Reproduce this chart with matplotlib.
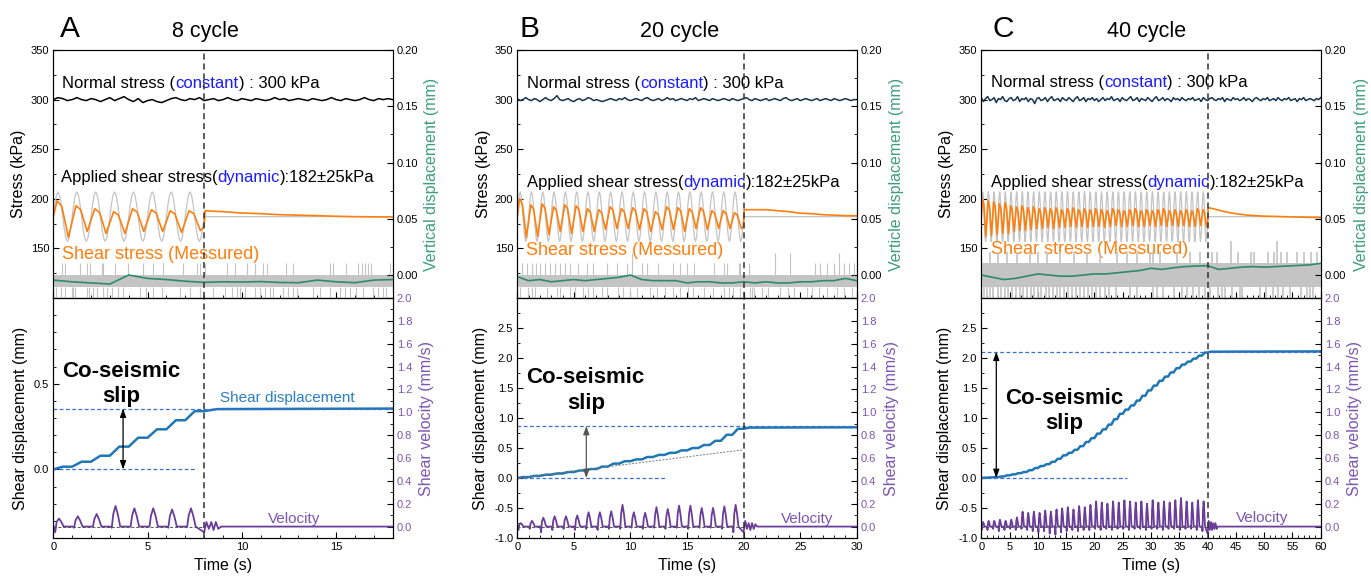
import matplotlib.pyplot as plt
import numpy as np
from matplotlib.ticker import MultipleLocator, FormatStrFormatter

plt.rcParams['font.family'] = ['Liberation Sans', 'DejaVu Sans']

# ---------------- data ----------------
# one cycle of the applied shear stress (kPa), 12 samples per cycle
applied_cycle = [182, 194.5, 203.5, 207, 203.5, 194.5, 182, 169.5, 160.5, 157, 160.5, 169.5]
applied_hold = 182

# normal stress (kPa), evenly spaced over the record
normal_a = [300, 302, 301, 299, 300, 302, 300, 299, 301, 300, 298, 300, 302, 299, 301, 303, 300, 298,
            301, 297, 299, 300, 298, 297, 299, 301, 302, 300, 299, 301, 300, 302, 299, 300, 301, 299,
            300, 302, 300, 299, 301, 300, 299, 301, 300, 299, 300, 302, 300, 301, 299, 300, 301, 300,
            299, 301, 300, 299, 300, 302, 300, 299, 301, 300, 299, 300, 302, 300, 299, 301, 300, 301, 300]
normal_b = [301, 299, 300, 302, 300, 299, 301, 300, 298, 300, 302, 300, 299, 301, 304, 300, 299, 300, 301, 299,
            298, 300, 301, 299, 300, 302, 301, 299, 300, 299, 298, 299, 300, 301, 300, 299, 301, 300, 302, 300,
            299, 300, 301, 300, 299, 301, 302, 300, 299, 300, 301, 299, 300, 302, 300, 301, 299, 300, 301, 300,
            299, 301, 300, 302, 299, 300, 301, 300, 299, 301, 300, 299, 300, 301, 300, 299, 301, 300, 299, 300,
            301, 302, 300, 299, 301, 300, 299, 300, 301, 299, 300, 301, 300, 299, 301, 302, 300, 299, 300, 301,
            299, 300, 301, 300, 299, 300, 301, 299, 300, 301, 300, 299, 301, 300, 299, 300, 301, 300, 299, 300, 300]
normal_c = [302, 298, 301, 303, 299, 300, 302, 297, 301, 300, 303, 299, 298, 301, 302, 299, 300, 303, 298, 301,
            300, 302, 298, 301, 300, 296, 301, 302, 299, 300, 302, 298, 301, 303, 299, 300, 301, 298, 302, 300,
            299, 302, 300, 298, 301, 303, 299, 300, 302, 298, 301, 300, 302, 299, 301, 298, 300, 302, 299, 301,
            300, 303, 299, 300, 301, 298, 302, 300, 299, 301, 303, 299, 300, 302, 298, 301, 300, 299, 302, 300,
            298, 301, 303, 299, 300, 302, 299, 301, 300, 298, 302, 300, 301, 299, 302, 300, 299, 301, 300, 302,
            299, 300, 301, 298, 302, 300, 299, 301, 302, 300, 299, 301, 300, 302, 298, 301, 300, 299, 302, 300,
            301, 299, 300, 302, 299, 301, 300, 298, 301, 302, 300, 299, 301, 300, 302, 299, 300, 301, 299, 302,
            300, 299, 301, 300, 302, 299, 300, 301, 298, 301, 300, 302, 299, 300, 301, 300, 299, 301, 300, 302]

# measured shear stress: peak / trough of every cycle, then the hold phase
meas_peak_a = [198, 193, 190, 187, 190, 189, 188, 188]
meas_trough_a = [161, 167, 165, 165, 167, 167, 166, 168]
meas_peak_b = [200, 194, 195, 192, 194, 193, 190, 189, 192, 190, 191, 190, 187, 192, 191, 190, 191, 188, 188, 186]
meas_trough_b = [161, 162, 164, 167, 165, 167, 167, 169, 170, 170, 169, 167, 169, 169, 167, 170, 169, 170, 170, 170]
meas_peak_c = [200, 198, 197, 195, 196, 193, 192, 193, 191, 192, 190, 191, 190, 191, 189, 190, 191, 189, 190, 189,
               190, 189, 188, 190, 189, 188, 189, 190, 188, 189, 188, 189, 190, 188, 189, 188, 189, 188, 190, 189]
meas_trough_c = [162, 163, 164, 165, 165, 167, 168, 168, 169, 170, 170, 171, 170, 171, 171, 172, 171, 172, 171, 172,
                 172, 171, 172, 173, 172, 172, 173, 172, 172, 173, 172, 173, 172, 173, 172, 173, 172, 172, 173, 172]
hold_t_a = [8.0, 8.05, 8.5, 9, 10, 11, 12, 13, 14, 15, 16, 17, 18]
hold_a = [172, 188, 187.5, 187, 185.7, 185, 184, 183.5, 183, 182.4, 182, 181.8, 181.7]
hold_t_b = [20.0, 20.05, 21, 22, 23, 24, 25, 26, 27, 28, 29, 30]
hold_b = [172, 189, 189, 189, 188, 187, 185.5, 185, 184, 183.5, 183, 183]
hold_t_c = [40.0, 40.1, 41, 42, 43, 45, 47, 50, 55, 60]
hold_c = [172, 191, 190, 188.5, 187, 185, 183.5, 182.5, 181.8, 181]

# vertical displacement (mm), smoothed trace
vdisp_a = [-0.0045, -0.006, -0.007, -0.008, 0.0, -0.003, -0.004, -0.0055, -0.0065, -0.006,
           -0.0062, -0.0058, -0.0066, -0.0068, -0.0045, -0.006, -0.0068, -0.0045, -0.004]
vdisp_b = [-0.0015, -0.005, -0.004, -0.006, -0.005, -0.004, -0.005, -0.004, -0.003, -0.002, 0.0,
           -0.004, -0.005, -0.005, -0.005, -0.007, -0.006, -0.006, -0.007, -0.007, -0.006,
           -0.007, -0.006, -0.007, -0.007, -0.006, -0.006, -0.005, -0.005, -0.003, -0.005]
vdisp_c = [0.0, -0.002, -0.004, -0.003, -0.001, 0.001, 0.0, -0.001, -0.001, 0.0, 0.001, 0.001, 0.002,
           0.003, 0.004, 0.006, 0.005, 0.0065, 0.0075, 0.008, 0.0083, 0.005, 0.006, 0.007, 0.0075,
           0.007, 0.0075, 0.008, 0.0085, 0.009, 0.0104]

# raw (quantised) vertical displacement: spike times (s)
raw_up_a = [0.44, 0.62, 1.42, 1.8, 1.95, 2.56, 2.65, 3.27, 3.98, 4.77, 5.3, 5.83, 6.86, 7.6, 7.78, 8.04,
            9.19, 9.63, 10.25, 10.69, 11.13, 11.31, 12.34, 12.72, 14.7, 14.85, 15.52, 16.17, 16.35,
            16.53, 16.7, 16.83, 17.85]
raw_down_a = [0.14, 0.39, 0.62, 0.97, 1.06, 1.15, 1.77, 1.91, 2.12, 2.3, 2.65, 2.83, 3.1, 3.45, 3.71,
              4.6, 4.91, 5.3, 5.74, 6.72, 7.25, 7.78, 8.48, 9.1, 9.46, 9.72, 9.9, 10.16, 10.69, 10.96,
              11.22, 11.49, 11.66, 12.19, 12.46, 12.72, 12.9, 13.79, 14.14, 14.67, 15.2, 15.47, 15.73,
              16.08, 16.44, 16.97, 17.23, 17.5, 17.67]
raw_tall_a = []
raw_up_b = [0.38, 0.83, 1.27, 1.65, 2.0, 2.45, 2.9, 3.34, 3.78, 4.22, 4.66, 5.4, 6.14, 6.73, 7.9, 8.79,
            9.67, 11.0, 11.45, 12.48, 13.8, 14.4, 15.0, 15.6, 17.36, 18.25, 18.54, 19.57, 19.72, 20.46,
            26.35, 26.8, 27.39, 27.98, 28.86, 29.3, 29.75]
raw_down_b = [0.24, 0.97, 1.27, 1.56, 2.6, 3.48, 3.78, 4.66, 5.1, 5.84, 6.28, 6.73, 7.46, 7.9, 8.94,
              9.38, 9.97, 10.56, 11.74, 12.33, 13.07, 13.8, 14.4, 15.13, 15.57, 16.46, 17.34, 18.23,
              18.67, 19.11, 19.7, 20.6, 20.74, 20.9, 21.6, 22.2, 23.24, 23.97, 24.42, 25.6, 26.04,
              26.63, 27.37, 28.25, 28.84, 29.58]
raw_tall_b = [10.1, 22.82, 24.14, 28.42]
raw_up_c = [1.53, 3.0, 4.6, 6.25, 8.6, 10.1, 11.55, 13.9, 16.3, 18.6, 21.0, 24.0, 25.7, 27.5, 29.8,
            30.4, 31.6, 34.6, 36.9, 38.7, 40.8, 41.7, 45.3, 47.6, 48.2, 50.6, 51.7, 52.9, 54.1, 55.8,
            57.0, 58.2, 59.4]
raw_down_c = [0.4, 1.0, 1.6, 2.1, 2.9, 3.5, 4.2, 4.8, 5.5, 6.1, 6.8, 7.3, 8.0, 8.7, 9.3, 10.0, 10.6,
              11.4, 12.0, 12.6, 13.3, 14.0, 14.7, 15.4, 16.0, 16.8, 17.5, 18.1, 18.9, 19.6, 20.3, 21.0,
              21.8, 22.5, 23.9, 26.3, 27.5, 30.4, 31.0, 32.2, 34.0, 35.4, 36.3, 37.5, 38.4, 39.5, 40.4,
              41.9, 42.5, 43.1, 44.3, 45.7, 46.0, 49.3, 50.4, 51.6, 52.5, 53.4, 54.6, 56.6, 57.5, 58.1, 58.7]
raw_tall_c = [44.1, 52.3]

# shear displacement (mm) at the end of each cycle, then hold
sdisp_a = [0.0, 0.016, 0.045, 0.08, 0.133, 0.185, 0.234, 0.287, 0.34]
sdisp_hold_t_a = [8.7, 18]
sdisp_hold_a = [0.352, 0.355]
sdisp_b = [0.0, 0.015, 0.035, 0.055, 0.075, 0.1, 0.125, 0.15, 0.19, 0.24, 0.28, 0.31, 0.35, 0.385,
           0.42, 0.46, 0.5, 0.55, 0.62, 0.72, 0.82]
sdisp_hold_t_b = [20.5, 30]
sdisp_hold_b = [0.84, 0.845]
sdisp_c = [0.0, 0.005, 0.01, 0.015, 0.025, 0.044, 0.06, 0.08, 0.1, 0.13, 0.166, 0.2, 0.23, 0.27, 0.32,
           0.377, 0.42, 0.47, 0.53, 0.6, 0.665, 0.74, 0.81, 0.89, 0.98, 1.07, 1.14, 1.21, 1.29, 1.37,
           1.46, 1.54, 1.62, 1.69, 1.76, 1.83, 1.89, 1.94, 1.99, 2.04, 2.09]
sdisp_hold_t_c = [40.5, 60]
sdisp_hold_c = [2.105, 2.11]
slip_top = [0.355, 0.867, 2.105]
trend_t_b = [0, 20]
trend_b = [0.0, 0.47]

# shear velocity (mm/s): peak / trough per cycle, then ringing after the stop
vel_peak_a = [0.07, 0.09, 0.11, 0.18, 0.16, 0.16, 0.15, 0.16]
vel_trough_a = [-0.05, -0.01, 0.0, -0.01, 0.0, 0.0, -0.01, 0.0]
vel_peak_b = [0.03, 0.05, 0.077, 0.09, 0.09, 0.097, 0.125, 0.125, 0.134, 0.19, 0.125, 0.12, 0.17,
              0.154, 0.183, 0.183, 0.163, 0.163, 0.177, 0.19]
vel_trough_b = [-0.03, -0.02, -0.05, -0.03, -0.02, -0.03, -0.02, -0.03, -0.02, -0.02, -0.01, -0.02,
                -0.01, -0.02, -0.01, -0.02, -0.01, -0.01, -0.02, -0.05]
vel_peak_c = [0.04, 0.05, 0.05, 0.06, 0.05, 0.06, 0.08, 0.13, 0.12, 0.13, 0.12, 0.14, 0.13, 0.15,
              0.16, 0.17, 0.15, 0.18, 0.17, 0.19, 0.22, 0.21, 0.2, 0.22, 0.21, 0.23, 0.22, 0.21, 0.22,
              0.2, 0.23, 0.21, 0.22, 0.21, 0.23, 0.25, 0.22, 0.21, 0.23, 0.22]
vel_trough_c = [-0.03, -0.03, -0.02, -0.04, -0.03, -0.02, -0.03, -0.02, -0.03, -0.04, -0.05, -0.04,
                -0.06, -0.07, -0.05, -0.04, -0.03, -0.04, -0.03, -0.03, -0.02, -0.03, -0.02, -0.03,
                -0.02, -0.02, -0.03, -0.02, -0.02, -0.03, -0.02, -0.02, -0.03, -0.02, -0.02, -0.03,
                -0.02, -0.02, -0.03, -0.04]
ring_t_a = [8.0, 8.12, 8.25, 8.38, 8.5, 8.62, 8.75, 8.9]
ring_a = [-0.05, 0.04, -0.02, 0.04, -0.03, 0.04, -0.02, 0.0]
ring_t_b = [20.0, 20.15, 20.3, 20.45, 20.6, 20.75, 20.9, 21.05, 21.2]
ring_b = [-0.05, 0.05, -0.02, 0.03, -0.03, 0.03, -0.02, 0.02, 0.0]
ring_t_c = [40.0, 40.2, 40.4, 40.6, 40.8, 41.0, 41.2, 41.4, 41.6, 41.8]
ring_c = [-0.06, 0.05, -0.03, 0.04, -0.03, 0.03, -0.02, 0.03, -0.02, 0.0]

letters = ['A', 'B', 'C']
titles = ['8 cycle', '20 cycle', '40 cycle']
vd_labels = ['Vertical displacement (mm)', 'Verticle displacement (mm)', 'Vertical displacement (mm)']

ORANGE = '#ff7f0e'
GREEN = '#2e8b6b'
GREEN_LBL = '#3d9d7c'
PURPLE = '#6a3d9a'
PURPLE_LBL = '#7d55b2'
BLUE = '#1f77b4'
DBLUE = '#3a6fd6'
GRAY = '#c4c4c4'
W, H = 1371, 579


def applied_line(n, tmax):
    t = np.concatenate([np.linspace(0, n, 12 * n, endpoint=False), [n, tmax]])
    y = np.concatenate([np.tile(applied_cycle, n), [applied_hold, applied_hold]])
    return t, y


def measured_line(peaks, troughs, hold_t, hold_v):
    t, y = [0.0], [applied_hold]
    for k, (p, q) in enumerate(zip(peaks, troughs)):
        t += [k + 0.2, k + 0.45, k + 0.8]
        y += [p, p - 0.15 * (p - q), q]
    return t + hold_t, y + hold_v


def step_line(vals, hold_t, hold_v):
    t, y = [0.0], [vals[0]]
    for k in range(1, len(vals)):
        t += [k - 0.5, k]
        y += [vals[k], vals[k]]
    return t + hold_t, y + hold_v


def velocity_line(peaks, troughs, ring_t, ring_v, tmax):
    t, y = [], []
    for k, (p, q) in enumerate(zip(peaks, troughs)):
        t += [k + 0.03, k + 0.1, k + 0.18, k + 0.3, k + 0.42, k + 0.55]
        y += [0.0, q, 0.6 * p, p, 0.6 * p, 0.0]
    return t + ring_t + [tmax], y + ring_v + [0.0]


def px_box(x0, x1, ytop, ybot):
    return [x0 / W, 1 - ybot / H, (x1 - x0) / W, (ybot - ytop) / H]


def style(ax):
    ax.tick_params(which='both', direction='in', labelsize=8, pad=3)
    ax.tick_params(which='major', length=4, width=0.8)
    ax.tick_params(which='minor', length=2, width=0.6)


def place_ylabel(ax, x):
    ax.yaxis.set_label_coords(x, 0.5)
    ax.yaxis.label.set_verticalalignment('center')


def rich_text(ax, x, y, parts, size):
    t = ax.text(x, y, parts[0][0], color=parts[0][1], fontsize=size, va='baseline')
    for s, c in parts[1:]:
        t = ax.annotate(s, xy=(1, 0), xycoords=t, color=c, fontsize=size, va='bottom')


panels = [
    dict(left=53.3, tmax=18, tev=8, n=8, ncol='black', normal=normal_a,
         mp=meas_peak_a, mt=meas_trough_a, ht=hold_t_a, hv=hold_a, vd=vdisp_a,
         up=raw_up_a, down=raw_down_a, tall=raw_tall_a, band=(-0.0104, 0.0), rawlw=0.8,
         sd=sdisp_a, sdt=sdisp_hold_t_a, sdv=sdisp_hold_a,
         vp=vel_peak_a, vt=vel_trough_a, rt=ring_t_a, rv=ring_a,
         ylow=(-0.4, 1.0), lticks=[0.0, 0.5], lminor=0.1,
         txt=(0.48, 312.0, 0.41, 217.2, 0.48, 139.3), base_end=7.6, arrow_t=3.7,
         slip=(3.62, 0.542, 0.392), vel_txt=(11.4, 0.035), arrow_col='black',
         labx=(-0.103, 1.115, -0.096, 1.10), title_x=(60, 172.3)),
    dict(left=517.3, tmax=30, tev=20, n=20, ncol='#16334f', normal=normal_b,
         mp=meas_peak_b, mt=meas_trough_b, ht=hold_t_b, hv=hold_b, vd=vdisp_b,
         up=raw_up_b, down=raw_down_b, tall=raw_tall_b, band=(-0.0104, 0.0), rawlw=0.8,
         sd=sdisp_b, sdt=sdisp_hold_t_b, sdv=sdisp_hold_b,
         vp=vel_peak_b, vt=vel_trough_b, rt=ring_t_b, rv=ring_b,
         ylow=(-1.0, 3.0), lticks=list(np.arange(-1.0, 2.6, 0.5)), lminor=0.25,
         txt=(0.83, 311.9, 0.83, 212.2, 0.77, 143.0), base_end=13.2, arrow_t=6.1,
         slip=(6.05, 1.588, 1.155), vel_txt=(23.3, 0.03), arrow_col='#555555',
         labx=(-0.10, 1.118, -0.108, 1.103), title_x=(520, 640)),
    dict(left=981.3, tmax=60, tev=40, n=40, ncol='#16334f', normal=normal_c,
         mp=meas_peak_c, mt=meas_trough_c, ht=hold_t_c, hv=hold_c, vd=vdisp_c,
         up=raw_up_c, down=raw_down_c, tall=raw_tall_c, band=(-0.0104, 0.0104), rawlw=1.2,
         sd=sdisp_c, sdt=sdisp_hold_t_c, sdv=sdisp_hold_c,
         vp=vel_peak_c, vt=vel_trough_c, rt=ring_t_c, rv=ring_c,
         ylow=(-1.0, 3.0), lticks=list(np.arange(-1.0, 2.6, 0.5)), lminor=0.25,
         txt=(1.71, 312.2, 1.71, 211.5, 1.66, 144.0), base_end=25.8, arrow_t=2.65,
         slip=(14.67, 1.24, 0.81), vel_txt=(45.0, 0.044), arrow_col='black',
         labx=(-0.102, 1.121, -0.107, 1.10), title_x=(992, 1107.3)),
]

fig = plt.figure(figsize=(W / 100, H / 100), dpi=100)

for i, p in enumerate(panels):
    l, tmax, tev = p['left'], p['tmax'], p['tev']
    axu = fig.add_axes(px_box(l, l + 339.4, 50, 298))
    axl = fig.add_axes(px_box(l, l + 339.4, 298, 538))
    axu2 = axu.twinx()
    axl2 = axl.twinx()

    # ---- upper: stresses ----
    tn = np.linspace(0, tmax, len(p['normal']))
    axu.plot(tn, p['normal'], color=p['ncol'], lw=1.1)
    ta, ya = applied_line(p['n'], tmax)
    axu.plot(ta, ya, color=GRAY, lw=0.9)
    tm, ym = measured_line(p['mp'], p['mt'], p['ht'], p['hv'])
    axu.plot(tm, ym, color=ORANGE, lw=1.2)
    axu.set_xlim(0, tmax)
    axu.set_ylim(100, 350)
    axu.set_yticks([150, 200, 250, 300, 350])
    axu.yaxis.set_minor_locator(MultipleLocator(25))
    axu.xaxis.set_major_locator(MultipleLocator(5))
    axu.xaxis.set_minor_locator(MultipleLocator(1))
    style(axu)
    axu.tick_params(labelbottom=False)
    axu.set_ylabel('Stress (kPa)', fontsize=11.5)
    place_ylabel(axu, p['labx'][0])

    x1, y1, x2, y2, x3, y3 = p['txt']
    rich_text(axu, x1, y1, [('Normal stress (', 'black'), ('constant', '#1a1aff'),
                            (') : 300 kPa', 'black')], 12)
    rich_text(axu, x2, y2, [('Applied shear stress(', 'black'), ('dynamic', '#1a1aff'),
                            ('):182±25kPa', 'black')], 12)
    axu.text(x3, y3, 'Shear stress (Messured)', color=ORANGE, fontsize=13, va='baseline')

    # ---- upper right: vertical displacement ----
    lo, hi = p['band']
    axu2.fill_between([0, tmax], lo, hi, color=GRAY, lw=0)
    axu2.vlines(p['up'], hi, hi + 0.0104, color=GRAY, lw=p['rawlw'])
    axu2.vlines(p['tall'], hi, hi + 0.02, color=GRAY, lw=p['rawlw'])
    axu2.vlines(p['down'], -0.03, lo, color=GRAY, lw=p['rawlw'])
    tv = np.linspace(0, tmax, len(p['vd']))
    axu2.plot(tv, p['vd'], color=GREEN, lw=1.2)
    axu2.axvline(tev, color='#333333', ls=(0, (4, 2.5)), lw=1.1)
    axu2.set_ylim(-0.0204, 0.2)
    axu2.yaxis.set_major_locator(MultipleLocator(0.05))
    axu2.yaxis.set_minor_locator(MultipleLocator(0.025))
    axu2.yaxis.set_major_formatter(FormatStrFormatter('%.2f'))
    style(axu2)
    axu2.set_ylabel(vd_labels[i], fontsize=11.5, color=GREEN_LBL, rotation=90)
    place_ylabel(axu2, p['labx'][1])

    # ---- lower: shear displacement ----
    ts, ys = step_line(p['sd'], p['sdt'], p['sdv'])
    axl.plot(ts, ys, color=BLUE, lw=1.8)
    axl.hlines(slip_top[i], 0, tmax, colors=DBLUE, linestyles=(0, (3, 2)), lw=0.9)
    axl.hlines(0.0, 0, p['base_end'], colors=DBLUE, linestyles=(0, (3, 2)), lw=0.9)
    if i == 1:
        axl.plot(trend_t_b, trend_b, color='#777777', ls=(0, (2, 1.5)), lw=0.7)
    axl.annotate('', xy=(p['arrow_t'], slip_top[i]), xytext=(p['arrow_t'], 0.0),
                 arrowprops=dict(arrowstyle='<|-|>,head_length=0.5,head_width=0.18',
                                 color=p['arrow_col'], lw=0.9, shrinkA=0, shrinkB=0))
    sx, sy1, sy2 = p['slip']
    axl.text(sx, sy1, 'Co-seismic', fontsize=16, fontweight='bold', ha='center', va='baseline')
    axl.text(sx, sy2, 'slip', fontsize=16, fontweight='bold', ha='center', va='baseline')
    if i == 0:
        axl.text(8.84, 0.396, 'Shear displacement', color='#2a7fc4', fontsize=11, va='baseline')
    axl.set_xlim(0, tmax)
    axl.set_ylim(*p['ylow'])
    axl.set_yticks(p['lticks'])
    axl.yaxis.set_minor_locator(MultipleLocator(p['lminor']))
    axl.yaxis.set_major_formatter(FormatStrFormatter('%.1f'))
    axl.xaxis.set_major_locator(MultipleLocator(5))
    axl.xaxis.set_minor_locator(MultipleLocator(1))
    style(axl)
    axl.set_xlabel('Time (s)', fontsize=11.5, labelpad=4)
    axl.set_ylabel('Shear displacement (mm)', fontsize=11.5)
    place_ylabel(axl, p['labx'][2])

    # ---- lower right: velocity ----
    tw, yw = velocity_line(p['vp'], p['vt'], p['rt'], p['rv'], tmax)
    axl2.plot(tw, yw, color=PURPLE, lw=1.3)
    axl2.hlines(0.0, 0, tev, colors='#555555', linestyles=(0, (3, 2)), lw=0.7)
    axl2.axvline(tev, color='#333333', ls=(0, (4, 2.5)), lw=1.1)
    vx, vy = p['vel_txt']
    axl2.text(vx, vy, 'Velocity', color=PURPLE_LBL, fontsize=11, va='baseline')
    axl2.set_ylim(-0.1, 2.0)
    axl2.yaxis.set_major_locator(MultipleLocator(0.2))
    axl2.yaxis.set_minor_locator(MultipleLocator(0.1))
    axl2.yaxis.set_major_formatter(FormatStrFormatter('%.1f'))
    style(axl2)
    axl2.tick_params(axis='y', labelcolor=PURPLE_LBL)
    axl2.set_ylabel('Shear velocity (mm/s)', fontsize=11.5, color=PURPLE_LBL, rotation=90)
    place_ylabel(axl2, p['labx'][3])

    # ---- panel titles ----
    fig.text(p['title_x'][0] / W, 1 - 36.7 / H, letters[i], fontsize=21.5, va='baseline')
    fig.text(p['title_x'][1] / W, 1 - 37 / H, titles[i], fontsize=15.5, va='baseline')

fig.savefig('out.png', dpi=100)
